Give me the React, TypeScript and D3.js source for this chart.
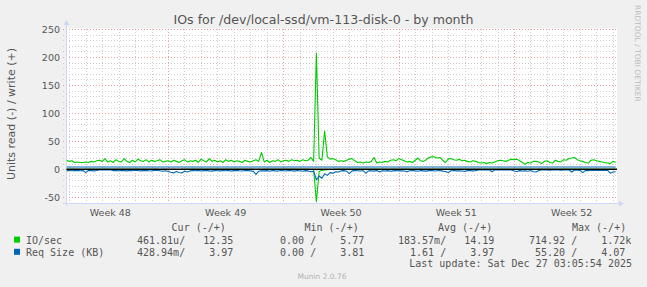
import React from 'react';
import * as d3 from 'd3';

const W = 647;
const H = 287;

// time span shown (UTC) and sampling step of the series
const START = Date.UTC(2025, 10, 23, 20, 10);
const END = Date.UTC(2025, 11, 27, 4, 35);
const STEP_HOURS = 4;

// IO/sec write (+)
const ioWrite = [
  16, 14, 15, 12, 13, 12, 12, 13, 12, 14, 13, 15, 16, 14, 19, 13, 15, 12, 17, 14, 13, 19, 14, 12, 16, 13, 18, 15, 14, 17, 13, 16, 14, 15, 17, 13, 14,
  15, 13, 16, 14, 12, 15, 17, 13, 15, 14, 16, 12, 18, 15, 13, 19, 14, 16, 13, 15, 12, 17, 14, 16, 13, 15, 14, 12, 16, 14, 13, 15, 17, 14, 30, 13, 16, 12, 15, 14, 17, 13,
  15, 16, 14, 17, 15, 16, 14, 17, 15, 16, 21, 14,
  207, 20, 16, 68, 22, 18, 19, 17,
  14, 15, 14, 16, 18, 19, 15, 12, 13, 11, 13, 12, 14, 21, 11, 13, 12, 14, 13, 16, 17, 15, 19,
  17, 15, 13, 14, 12, 16, 20, 15, 14, 17, 21, 22, 22, 20, 21, 16, 12, 18, 19, 17, 16, 18, 15, 16, 14, 13, 15, 14,
  12, 11, 12, 10, 12, 11, 13, 15, 16, 15, 14, 16, 18, 17, 18, 15, 12, 9, 12, 11, 14, 14, 13, 10, 14, 15, 12, 11, 16, 14, 13, 17, 16, 19, 20, 21, 17, 15, 14, 12, 11, 16, 17, 15, 14, 13, 12, 11, 10, 14, 12.35,
];

// IO/sec read (-)
const ioRead = [
  0.2, 0.1, 0.3, 0.2, 0.1, 0.2, 0.4, 0.2, 0.1, 0.3, 0.2, 0.2, 0.1, 0.1, 0.2, 0.1, 0.3, 0.2, 0.2, 0.1, 0.2, 0.3, 0.2, 0.1, 0.2, 0.2, 0.3, 0.1, 0.2, 0.2, 0.1, 0.3, 0.2, 0.2, 0.4, 0.2, 0.3, 0.5, 0.4, 0.3, 0.4, 0.5, 0.2, 0.3, 0.2, 0.1, 0.2, 0.2, 0.1, 0.3,
  0.2, 0.1, 0.2, 0.3, 0.1, 0.2, 0.2, 0.1, 0.2, 0.1, 0.3, 0.2, 0.1, 0.2, 0.2, 0.3, 0.1, 0.2, 0.3, 0.6, 0.3, 0.4, 0.2, 0.1, 0.2, 0.2, 0.1, 0.3, 0.2, 0.1, 0.2, 0.2, 0.1, 0.2, 0.3, 0.2, 0.1, 0.2, 0.3, 0.5, 0.8,
  58, 4, 2, 1.5, 1, 0.6, 0.5, 0.3,
  0.3, 0.2, 0.2, 0.1, 0.3, 0.2, 0.1, 0.2, 0.2, 0.1, 0.3, 0.2, 0.2, 0.1, 0.2, 0.2, 0.1, 0.2, 0.3, 0.2, 0.1, 0.2, 0.2, 0.1, 0.2, 0.3, 0.2, 0.1, 0.2, 0.2, 0.1, 0.3, 0.2, 0.2, 0.1, 0.2, 0.2, 0.3, 0.1, 0.2, 0.2, 0.1, 0.2, 0.2, 0.3, 0.1, 0.2, 0.2, 0.1, 0.2, 0.2,
  0.1, 0.1, 0.0, 0.1, 0.1, 0.2, 0.1, 0.0, 0.1, 0.1, 0.1, 0.1, 0.2, 0.2, 0.3, 0.2, 0.1, 0.2, 0.2, 0.3, 0.2, 0.1, 0.1, 0.1, 0.1, 0.1, 0.1, 0.1, 0.1, 0.1, 0.1, 0.1, 0.1, 0.2, 0.1, 0.2, 0.1, 0.2, 0.2, 0.2, 0.3, 0.2, 0.2, 0.1, 0.2, 0.2, 0.2, 0.1, 0.2, 0.3, 0.0,
];

// Req Size (KB) read (-)
const reqRead = [
  2.5, 2.2, 2.8, 2.4, 2.0, 2.6, 2.3, 6.0, 2.1, 2.5, 3.0,
  2.2, 1.5, 1.2, 1.0, 1.3, 1.1, 2.4, 2.0, 2.8, 2.2,
  2.5, 3.0, 2.1, 2.6, 1.8, 2.2, 2.9, 2.4, 2.0, 2.7, 3.2, 2.3, 2.1, 2.6, 3.5, 2.8,
  4.0, 5.5, 6.5, 4.2, 5.8, 6.8, 3.5, 4.8, 3.0,
  2.4, 2.8, 2.1, 3.2, 2.5, 2.0, 2.9, 3.4, 2.2, 2.6, 3.0, 2.3, 2.7, 2.1, 3.3, 2.5, 2.0, 2.8, 3.1, 2.4, 2.2, 2.9, 3.4,
  9.0, 3.5, 2.6, 3.0,
  2.5, 3.6, 2.2, 2.9, 3.3, 2.4, 2.7, 3.1, 2.0, 2.6, 3.4, 2.3, 2.8, 3.5, 2.5, 3.0, 4.5, 3.5,
  19, 12, 16, 8, 11, 6, 7, 4.5,
  5, 3, 2.5, 3.5, 8, 3, 2.5, 2.8, 3.2, 2.4, 7, 3, 2.6, 3.4, 2.2, 5, 2.8, 3.1, 2.5, 3.6, 2.9, 2.4, 3.0,
  2.6, 3.2, 4.5, 2.8, 2.2, 3.0, 3.6, 2.4, 2.9, 3.3, 2.5, 2.0, 3.1, 2.7, 2.4, 3.4, 4.0, 6.0, 2.8, 2.3, 3.0, 2.6, 3.2, 4.0, 2.5, 2.2, 3.0, 2.6,
  1.2, 1.0, 1.3, 1.1, 1.0, 4.5, 1.2, 1.0, 1.1, 1.3, 1.0, 1.2, 1.5,
  3.0, 4.0, 2.5, 3.2, 2.8, 3.5, 2.4, 4.5, 4.8, 2.2, 1.5, 1.3, 1.4, 1.6, 1.3, 1.5, 1.2, 1.6, 1.4, 1.5, 1.3, 5.0, 1.4, 1.8, 2.2, 6.0, 2.0, 2.5, 1.8, 2.3, 2.0, 1.6, 2.2, 2.0, 1.8, 7.0, 5.0, 4.5,
];

// Req Size (KB) write (+)
const reqWrite = [
  3.98, 3.96, 3.99, 3.97, 3.95, 3.98, 4.00, 3.97, 3.96, 3.98, 3.99, 3.97, 3.95, 3.96, 3.98, 3.97, 3.99, 4.01, 3.97, 3.96, 3.98, 3.95, 3.97, 3.99, 3.98, 3.96, 3.97, 4.00, 3.98, 3.96, 3.97, 3.99, 3.95, 3.98, 3.97, 3.96, 3.94, 3.92, 3.95, 3.97,
  3.98, 3.96, 3.97, 3.99, 3.98, 3.95, 3.97, 3.96, 3.98, 4.00, 3.97, 3.96, 3.99, 3.97, 3.95, 3.98, 3.97, 3.96, 3.99, 3.98, 3.97, 3.95, 3.98, 3.96, 3.97, 4.00, 3.98, 3.97, 3.96, 3.99, 3.97, 3.95, 3.98, 4.02, 3.97, 3.96, 3.98, 3.97, 3.99, 3.96,
  3.98, 3.97, 3.95, 3.99, 3.97, 3.96, 3.98, 3.97, 3.99, 3.95, 3.92, 3.85, 3.90, 3.88, 3.93, 3.95, 3.96, 3.97, 3.98, 3.96, 3.97, 3.99, 3.98, 3.96, 3.97, 3.95, 3.98, 4.00, 3.97, 3.96, 3.98, 3.97, 3.99, 3.96, 3.97, 3.98, 3.95, 3.97, 3.99, 3.98,
  3.96, 3.97, 3.98, 3.99, 3.97, 3.96, 3.98, 3.95, 3.97, 4.00, 3.98, 3.96, 3.97, 3.99, 3.98, 3.97, 3.96, 3.98, 3.95, 3.97, 3.99, 3.98, 3.96, 3.97, 3.98, 4.01, 3.97, 3.96, 3.98, 3.97, 3.99, 4.02, 4.03, 4.01, 4.04, 4.02, 4.00, 4.03, 4.01, 4.02,
  4.00, 3.98, 3.97, 3.96, 3.98, 3.97, 3.99, 3.96, 3.97, 3.98, 3.95, 3.97, 3.99, 4.00, 4.01, 4.02, 4.00, 4.01, 3.99, 4.00, 4.02, 4.01, 4.00, 3.99, 3.98, 4.00, 3.97, 3.98, 3.96, 3.97, 3.98, 3.99, 3.97, 3.96, 3.98, 3.97, 3.99, 3.98, 3.96, 3.97, 3.97,
];

const yTicks = [-50, 0, 50, 100, 150, 200, 250];
const legendHeaders = ['Cur (-/+)', 'Min (-/+)', 'Avg (-/+)', 'Max (-/+)'];
const legendSeries = ['IO/sec', 'Req Size (KB)'];
const legendColors = ['#00CC00', '#0066B3'];
const legendRead = [
  ['461.81u/', '  0.00 /', '183.57m/', '714.92 /'],
  ['428.94m/', '  0.00 /', '  1.61 /', ' 55.20 /'],
];
const legendWrite = [
  [' 12.35', '  5.77', ' 14.19', '  1.72k'],
  ['  3.97', '  3.81', '  3.97', '  4.07'],
];
const TITLE = 'IOs for /dev/local-ssd/vm-113-disk-0 - by month';
const Y_LABEL = 'Units read (-) / write (+)';
const LAST_UPDATE = 'Last update: Sat Dec 27 03:05:54 2025';
const WATERMARK = 'RRDTOOL / TOBI OETIKER';
const FOOTER = 'Munin 2.0.76';

const SANS = "'DejaVu Sans', sans-serif";
const MONO = "'DejaVu Sans Mono', monospace";
const TXT = '#555';
const AXIS = '#CFD6F8';
const MINOR = '#cfcfcf';
const MAJOR = '#e6a0a0';

export default function App() {
  const left = 66.5;
  const right = 616;
  const top = 29;
  const bottom = 203;
  const x = d3.scaleUtc().domain([new Date(START), new Date(END)]).range([left, right]);
  const y = d3.scaleLinear().domain([-60.2, 250]).range([bottom, top]);
  const t = (i: number) => new Date(START + i * STEP_HOURS * 3600e3);
  const mk = (arr: number[], sign: number) =>
    d3.line<number>().x((_, i) => x(t(i))).y((d) => y(sign * d))(arr) || '';

  const px = (v: number) => Math.round(v) + 0.5;

  const minorH = d3.range(-50, 251, 10).filter((v) => v % 50 !== 0);
  const days = d3.utcDay.range(new Date(START), new Date(END)).filter((d) => d.getUTCDay() !== 0);
  const sundays = d3.utcSunday.range(new Date(START), new Date(END));
  const weekStarts = d3.utcSunday.range(new Date(START - 7 * 864e5), new Date(END));
  const fmtWeek = d3.utcFormat('Week %V');
  const weekLabels = weekStarts
    .map((s) => new Date(+s + 3.5 * 864e5))
    .filter((c) => x(c) >= left && x(c) <= right);

  const groupX = [137, 268, 398, 529];
  const headerX = [171.6, 304.5, 438, 572];
  const cw = 6.02;
  const rowBase = [243.6, 255.8];

  return (
    <svg
      width={W}
      height={H}
      viewBox={`0 0 ${W} ${H}`}
      style={{ position: 'absolute', left: 0, top: 0, display: 'block' }}
    >
      <defs>
        <clipPath id="cv">
          <rect x={left} y={top - 1} width={right - left + 1} height={bottom - top + 1} />
        </clipPath>
      </defs>
      <rect x={0} y={0} width={W} height={H} fill="#F0F0F0" />
      <rect x={left} y={top - 0.5} width={right - left + 1} height={bottom - top + 0.5} fill="#FFFFFF" />

      {/* grid */}
      {minorH.map((v) => (
        <line key={'mh' + v} x1={63} x2={right + 1} y1={px(y(v))} y2={px(y(v))} stroke={MINOR} strokeDasharray="1,2" />
      ))}
      {days.map((d) => (
        <line key={'md' + +d} x1={px(x(d))} x2={px(x(d))} y1={top} y2={bottom + 3} stroke={MINOR} strokeDasharray="1,2" />
      ))}
      {yTicks.map((v) => (
        <line key={'Mh' + v} x1={63} x2={right + 1} y1={px(y(v))} y2={px(y(v))} stroke={MAJOR} strokeDasharray="1,2" />
      ))}
      {sundays.map((d) => (
        <line key={'Md' + +d} x1={px(x(d))} x2={px(x(d))} y1={top} y2={bottom + 3} stroke={MAJOR} strokeDasharray="1,2" />
      ))}

      {/* axes */}
      <line x1={63} x2={619} y1={bottom + 0.5} y2={bottom + 0.5} stroke={AXIS} />
      <polygon points={`619,${bottom - 2.5} 619,${bottom + 3.5} 624,${bottom + 0.5}`} fill={AXIS} />
      <line x1={left} x2={left} y1={bottom + 3} y2={25} stroke={AXIS} />
      <polygon points={`${left - 3},25 ${left + 3},25 ${left},20`} fill={AXIS} />

      {/* series */}
      <g clipPath="url(#cv)" fill="none" strokeWidth={1.1} strokeLinejoin="round">
        <path d={mk(ioRead, -1)} stroke="#00CC00" />
        <path d={mk(ioWrite, 1)} stroke="#00CC00" />
        <path d={mk(reqRead, -1)} stroke="#0066B3" />
        <path d={mk(reqWrite, 1)} stroke="#0066B3" />
      </g>
      <line x1={left} x2={right + 1} y1={y(0)} y2={y(0)} stroke="#000" strokeWidth={1.4} />

      {/* y tick labels */}
      {yTicks.map((v) => (
        <text key={'yl' + v} x={60} y={px(y(v)) + 3.3} textAnchor="end" fontFamily={SANS} fontSize={9.5} fill={TXT}>
          {v}
        </text>
      ))}
      {/* x labels */}
      {weekLabels.map((c) => (
        <text key={'xl' + +c} x={x(c)} y={216.3} textAnchor="middle" fontFamily={SANS} fontSize={9.5} fill={TXT}>
          {fmtWeek(c)}
        </text>
      ))}

      {/* title & labels */}
      <text x={323.5} y={24} textAnchor="middle" fontFamily={SANS} fontSize={12.6} fill={TXT}>
        {TITLE}
      </text>
      <text transform="translate(14.5,114) rotate(-90)" textAnchor="middle" fontFamily={SANS} fontSize={11} fill={TXT}>
        {Y_LABEL}
      </text>
      <text transform="translate(635,5) rotate(90)" textAnchor="start" fontFamily={SANS} fontSize={7.5} fill="#bdbdbd">
        {WATERMARK}
      </text>

      {/* legend */}
      {legendHeaders.map((h, i) => (
        <text key={'h' + i} x={headerX[i]} y={230.9} fontFamily={MONO} fontSize={10} fill={TXT} xmlSpace="preserve" style={{ whiteSpace: 'pre' }}>
          {h}
        </text>
      ))}
      {legendSeries.map((s, r) => (
        <g key={'row' + r}>
          <rect x={14} y={rowBase[r] - 7} width={6} height={6} fill={legendColors[r]} />
          <text x={26} y={rowBase[r]} fontFamily={MONO} fontSize={10} fill={TXT}>
            {s}
          </text>
          {groupX.map((gx, c) => (
            <text key={'c' + c} x={gx} y={rowBase[r]} fontFamily={MONO} fontSize={10} fill={TXT} xmlSpace="preserve" style={{ whiteSpace: 'pre' }}>
              {legendRead[r][c] + '  ' + legendWrite[r][c]}
            </text>
          ))}
        </g>
      ))}
      <text x={632} y={267} textAnchor="end" fontFamily={MONO} fontSize={10} fill={TXT}>
        {LAST_UPDATE}
      </text>
      <text x={322} y={278.7} textAnchor="middle" fontFamily={SANS} fontSize={7.5} fill="#b0b0b0">
        {FOOTER}
      </text>
    </svg>
  );
}
